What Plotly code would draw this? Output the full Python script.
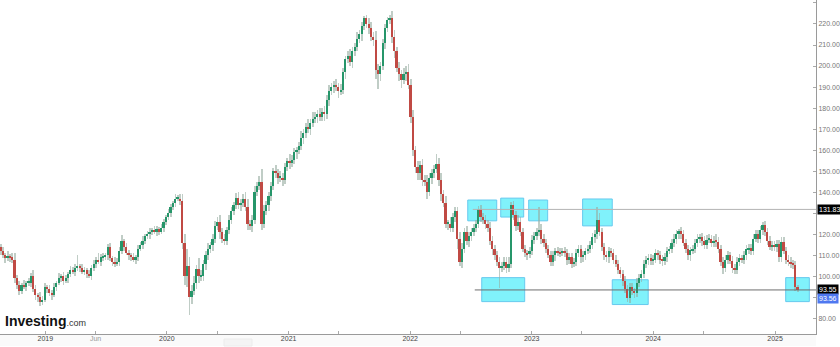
import pandas as pd
import plotly.graph_objects as go

# ---------------- data ----------------
START_WEEK = "2018-08-20"
FIRST_OPEN = 114.0

CLOSE = [
    112, 110, 108.5, 109.5, 109, 108, 99, 96, 93, 96, 95, 97, 97, 100, 94, 91,
    90, 88, 89, 95, 94, 92, 91, 95, 97, 99, 100, 98, 99, 101, 103, 102,
    104, 105, 104, 102, 103, 101, 100, 104, 106, 108, 107, 109, 109, 110, 114, 108.5,
    107, 106, 107, 112, 117, 114, 111, 110, 109, 108, 109, 113, 115, 117, 119, 120,
    121, 122, 121, 122.5, 121, 123, 126, 128, 130, 133, 135, 137, 137, 136, 116, 100,
    105, 90, 93, 97, 103.5, 100, 100, 106, 110, 113, 115, 118, 124, 126, 121, 118,
    117, 122, 127, 131, 134, 137.5, 134, 135, 137, 133, 125, 124, 127, 140, 143, 145,
    125, 131, 134, 138, 143, 150, 149, 147, 147, 146, 152, 155, 154, 155.5, 159, 160,
    162, 166, 168, 171, 170, 173, 175, 176, 177, 176, 178, 177, 184, 188, 190, 191,
    190, 188, 188.5, 197, 203.5, 205, 202, 207, 209, 213, 215, 219, 223, 220, 218, 214,
    212.5, 198, 196, 200, 211, 218, 222, 223, 214, 207, 199, 196, 193.5, 196, 197, 191,
    176, 160, 152, 149, 153, 146, 145, 140, 147, 149, 151, 153.5, 146, 139, 135, 125,
    125, 123, 128, 131, 118, 107, 113, 121, 117, 119, 121, 123, 125, 132, 128, 127,
    125, 123, 117, 113, 110, 107, 104, 105, 107, 104, 106, 134, 129, 124, 126, 121,
    113, 111, 110.5, 112, 117.5, 119, 121, 122, 118, 116, 113, 110, 107, 110, 112, 111.5,
    111, 112, 111, 108, 109, 106, 107, 111, 113, 109, 110, 112, 113, 115, 118.5, 120,
    127, 121, 114, 110, 109, 112, 111, 108, 106, 103, 101, 98, 94, 89.5, 95, 93,
    92, 97, 99, 101, 106, 108, 108.5, 107.5, 108, 111, 110, 108, 107.5, 109, 112, 113,
    116, 118, 120, 121.5, 120, 116, 113, 110, 112.5, 113, 116, 118, 118.5, 117, 115, 117.5,
    118, 116, 117, 116.5, 113, 107, 104, 108, 110, 107.5, 104, 103, 107, 108.5, 108, 110,
    113, 113.5, 112, 118, 120, 118, 122, 124.5, 121, 117, 114, 115, 114, 115.5, 109, 116.5,
    112, 108, 107, 106, 105.5, 95, 93.56,
]

# how far each week's high / low reaches beyond its body
WICK_UP = [
    1.5, 2, 1, 2.5, 1, 2, 3, 1.5, 2, 1, 2.5, 1, 2, 1.5, 3, 2, 1, 2.5, 1.5, 2,
    1, 2, 1.5, 2, 1, 2.5, 1, 2, 1.5, 1, 2, 1.5, 2, 5, 1, 2, 1.5, 1, 2, 1.5,
    2, 1, 3, 1.5, 2, 1, 1.5, 2, 1, 2, 1.5, 2, 2.5, 1, 2, 1.5, 1, 2, 1, 2,
    1.5, 2, 1, 1.5, 2, 1, 2, 1.5, 1, 2, 1.5, 1, 2, 1.5, 1, 2, 1.5, 2, 3, 4,
    8, 4, 3, 3, 2, 5, 3, 2, 2, 3, 1.5, 2, 2.5, 2, 3, 2, 2, 1.5, 2, 2,
    1.5, 2, 2.5, 2, 2, 3, 4, 2, 2, 3, 2, 2.5, 6, 3, 2, 2, 2, 1.5, 3, 2,
    3, 2, 2, 1.5, 3, 2, 2, 1.5, 2, 3, 2, 2, 4, 2, 3, 2, 2, 3, 2, 3,
    2, 3, 2, 2, 3, 2, 3, 2, 1.5, 2, 3, 2, 2, 3, 2, 2, 1, 1.5, 3, 3,
    2, 4, 3, 2, 2, 2, 1.5, 1.5, 3, 3, 2, 3, 2, 3, 3, 4, 3, 3, 2, 3,
    2, 3, 2, 3, 2, 2, 2, 4.5, 3, 3, 2, 3, 2, 3, 2, 2, 2, 3, 3, 2,
    3, 2, 2, 2, 2, 1.5, 2, 2, 2, 2, 3, 2, 2, 2, 2, 2, 2, 2, 3, 1.5,
    2, 2, 3, 2, 2, 2, 1.5, 2, 2, 2, 2, 11, 3, 2, 2, 2, 2, 2, 1.5, 2,
    2, 1.5, 2, 2, 2, 2, 1.5, 2, 2, 2, 2, 1.5, 2, 2, 2, 2, 6, 3, 2, 2,
    2, 2, 1.5, 2, 2, 2, 1.5, 2, 2, 2, 2, 2, 1.5, 2, 2, 2, 2, 1.5, 2, 2,
    2, 2, 1.5, 2, 2, 2, 2, 1.5, 2, 2, 2, 1, 2, 2, 2, 2, 1.5, 2, 2, 2,
    1.5, 2, 2, 2, 2, 1.5, 2, 3, 2, 2, 2, 2, 2, 1.5, 2, 2, 2, 2, 1.5, 2,
    2, 2, 2, 2, 2, 2, 2, 1.5, 2, 2, 2, 2, 2, 2, 2, 2, 2, 2, 2, 2,
    2, 2, 1,
]
WICK_DN = [
    2, 1.5, 2, 1, 2, 1.5, 2, 2, 2, 1.5, 1, 2, 1.5, 2, 1.5, 2, 2, 2, 1.5, 1,
    2, 1.5, 2, 1, 2, 1, 1.5, 2, 1, 2, 1.5, 1, 2, 1.5, 2, 1, 1.5, 2, 1, 1.5,
    1.5, 2, 1, 2, 1.5, 1, 2, 1, 2, 1.5, 1, 2, 1.5, 2, 1, 2, 1.5, 1, 2, 1.5,
    1, 2, 1.5, 1, 2, 1.5, 1, 2, 1.5, 1, 2, 1.5, 1, 2, 1.5, 2, 1, 2, 3, 4,
    5, 8.5, 3, 2, 3, 3, 2, 2, 3, 2, 2, 3, 2, 2, 3, 2, 2, 2, 2, 2,
    2, 2, 2, 3, 2, 2, 3, 2, 3, 2, 2, 2, 3, 2, 2, 3, 2, 2, 2, 3,
    2, 3, 2, 2, 3, 2, 2, 3, 2, 2, 3, 2, 2, 3, 2, 2, 3, 2, 2, 3,
    2, 3, 2, 3, 2, 3, 2, 2, 3, 2, 2, 3, 2, 2, 2, 3, 2, 2, 3, 2,
    3, 4, 7, 3, 2, 3, 2, 2, 3, 3, 2, 3, 4, 2, 3, 2, 3, 3, 3, 3,
    3, 3, 2, 3, 2, 3, 2, 2, 3, 3, 2, 2, 3, 2, 2, 2, 5, 2, 3, 2,
    2, 3, 2, 2, 2, 2, 2, 2, 2.5, 2, 2, 3, 2, 2, 9.5, 2, 2, 2.5, 2, 2,
    2, 2.5, 2, 2, 1.5, 2, 2.5, 2, 2, 2, 1.5, 2, 2.5, 2, 2, 1.5, 2, 2, 2.5, 2,
    2, 1.5, 2, 2.5, 2, 2, 1.5, 2, 2, 2.5, 2, 2, 1.5, 2, 2, 2.5, 2, 2, 2, 2,
    2, 2.5, 2, 2, 1.5, 2, 2, 2.5, 2, 1.5, 2, 2, 2.5, 2, 2, 1.5, 2, 2, 2.5, 2,
    2, 1.5, 2, 2, 2.5, 2, 2, 1.5, 2, 2, 2.5, 2, 2, 1.5, 2, 2, 2.5, 2, 2, 2,
    2, 2.5, 2, 2, 1.5, 2, 2, 2.5, 2, 2, 3, 2, 2, 1.5, 2.5, 2, 2, 2, 1.5, 2,
    2, 2.5, 2, 2, 1.5, 2, 2, 2.5, 2, 2, 1.5, 2, 2, 2.5, 2, 2, 1.5, 2, 2, 2,
    2, 2, 1,
]

# support / resistance levels and highlighted zones
LEVELS = [131.83, 93.55]
LEVEL_FROM = ["2022-07-08", "2022-07-14"]
LAST_PRICE = 93.56

ZONE_X0 = ["2022-06-23", "2022-09-30", "2022-12-23", "2023-06-03", "2022-08-04", "2023-08-31", "2025-02-02"]
ZONE_X1 = ["2022-09-18", "2022-12-08", "2023-02-18", "2023-08-31", "2022-12-11", "2023-12-17", "2025-04-14"]
ZONE_Y0 = [126.4, 128.2, 126.4, 124.0, 88.0, 86.6, 88.0]
ZONE_Y1 = [136.3, 137.2, 136.3, 136.8, 99.4, 98.4, 99.4]

PRICE_TICKS = list(range(80, 231, 10))
# 90 and 130 sit behind the level price tags on the axis
PRICE_LABELS = ["" if v in (90, 130) else f"{v:.2f}" for v in PRICE_TICKS]
DATE_TICKS = ["2019-01-01", "2019-06-01", "2020-01-01", "2020-06-01", "2021-01-01", "2021-06-01",
              "2022-01-01", "2022-06-01", "2023-01-01", "2023-06-01", "2024-01-01", "2024-06-01",
              "2025-01-01"]
DATE_LABELS = ["2019", "<span style='color:#999'>Jun</span>", "2020", "", "2021", "", "2022", "",
               "2023", "", "2024", "", "2025"]

# ---------------- build ----------------
dates = pd.date_range(START_WEEK, periods=len(CLOSE), freq="W-MON")
opens = [FIRST_OPEN] + CLOSE[:-1]
highs = [max(o, c) + u for o, c, u in zip(opens, CLOSE, WICK_UP)]
lows = [min(o, c) - d for o, c, d in zip(opens, CLOSE, WICK_DN)]

GREEN = "#26966a"
RED = "#c04a44"
day_ms = 86400000
bar_w = 5.2 * day_ms

fig = go.Figure()
fig.add_trace(go.Bar(
    x=dates, base=lows, y=[h - l for h, l in zip(highs, lows)],
    width=bar_w, marker=dict(color="rgba(150,172,160,0.6)", line=dict(width=0)),
    hoverinfo="skip",
))
body_base = [min(o, c) for o, c in zip(opens, CLOSE)]
body_h = [max(abs(c - o), 0.4) for o, c in zip(opens, CLOSE)]
body_col = [GREEN if c >= o else RED for o, c in zip(opens, CLOSE)]
fig.add_trace(go.Bar(
    x=dates, base=body_base, y=body_h, width=bar_w,
    marker=dict(color=body_col, line=dict(width=0)),
))

shapes = []
for x0, x1, y0, y1 in zip(ZONE_X0, ZONE_X1, ZONE_Y0, ZONE_Y1):
    shapes.append(dict(type="rect", xref="x", yref="y", x0=x0, x1=x1, y0=y0, y1=y1,
                       fillcolor="#80f2fb", line=dict(color="#66c9ee", width=1), layer="below"))
line_cols = ["#b4b4b4", "#6e6e6e"]
for lvl, start, lc in zip(LEVELS, LEVEL_FROM, line_cols):
    shapes.append(dict(type="line", xref="x", yref="y", x0=start, x1="2025-05-06", y0=lvl, y1=lvl,
                       line=dict(color=lc, width=1), layer="above"))
# faint band under the time axis and small scroll button
shapes.append(dict(type="rect", xref="paper", yref="paper", x0=0, x1=1,
                   y0=-12 / 334, y1=0, fillcolor="#fafafa", line=dict(width=0), layer="below"))
shapes.append(dict(type="rect", xref="paper", yref="paper", x0=224 / 816, x1=252 / 816,
                   y0=-12 / 334, y1=-5 / 334, fillcolor="#f4f4f4", line=dict(color="#ececec", width=1)))

TAG_FONT = dict(color="white", size=7, family="Liberation Sans, Arial")
annotations = []
for lvl in LEVELS:
    annotations.append(dict(x=1, xref="paper", y=lvl, yref="y", xanchor="left", yanchor="middle",
                            text=f"{lvl:.2f}", showarrow=False, bgcolor="#000000", borderpad=1,
                            font=TAG_FONT, xshift=1))
annotations.append(dict(x=1, xref="paper", y=LAST_PRICE, yref="y", xanchor="left", yanchor="middle",
                        text=f"{LAST_PRICE:.2f}", showarrow=False, bgcolor="#4f78f0", borderpad=1,
                        font=TAG_FONT, xshift=1, yshift=-9))
annotations.append(dict(x=0, xref="paper", y=13 / 334, yref="paper", xanchor="left", yanchor="middle",
                        xshift=3, showarrow=False,
                        text="<b>Investing</b><span style='font-size:9px;color:#333'>.com</span>",
                        font=dict(color="#111111", size=14, family="Liberation Sans, Arial")))

fig.update_layout(
    width=840, height=347,
    margin=dict(l=0, r=24, t=0, b=13, autoexpand=False),
    paper_bgcolor="white", plot_bgcolor="white",
    barmode="overlay", bargap=0, showlegend=False,
    shapes=shapes, annotations=annotations,
    font=dict(family="Liberation Sans, Arial", size=8, color="#666"),
    xaxis=dict(type="date", range=["2018-08-18", "2025-05-04"], showgrid=False, zeroline=False,
               showline=True, linecolor="#9a9a9a", linewidth=1, ticks="inside", ticklen=3,
               tickcolor="#aaaaaa", tickvals=DATE_TICKS, ticktext=DATE_LABELS,
               ticklabelstandoff=-2,
               tickfont=dict(size=7, color="#444"), fixedrange=True),
    yaxis=dict(side="right", range=[72.6, 231.4], showgrid=False, zeroline=False,
               showline=True, linecolor="#9a9a9a", linewidth=1, ticks="inside", ticklen=3,
               tickcolor="#aaaaaa", tickvals=PRICE_TICKS, ticktext=PRICE_LABELS,
               ticklabelstandoff=0,
               tickfont=dict(size=7, color="#777"), fixedrange=True),
)

fig.write_html("out.html")
